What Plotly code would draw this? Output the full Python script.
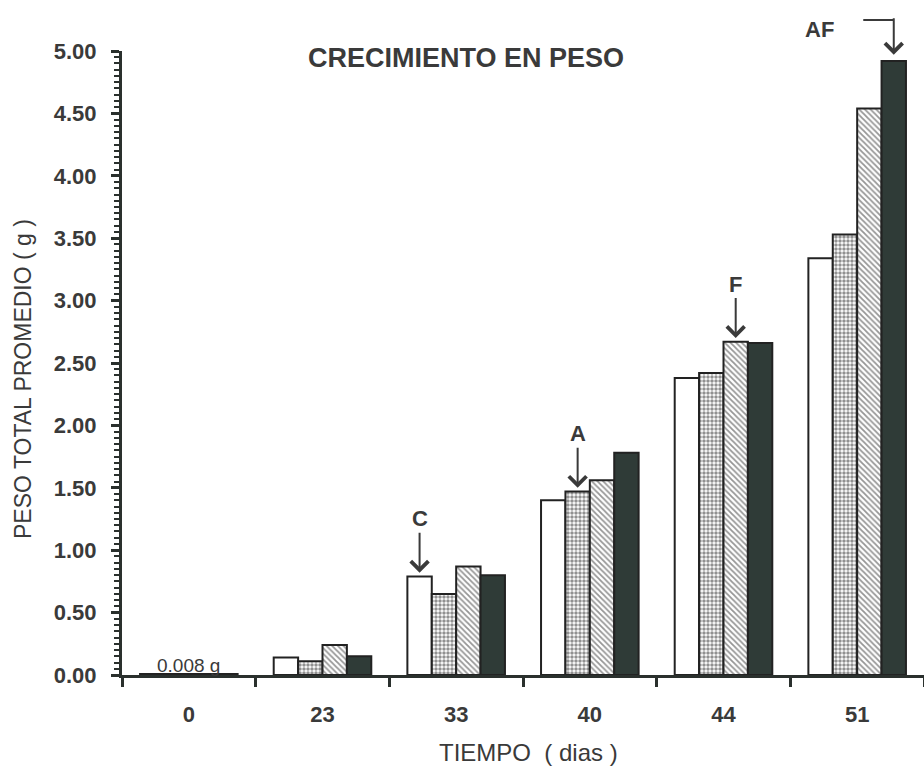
import plotly.graph_objects as go

# Average total weight (g) per sampling day for the four treatments
days = ["0", "23", "33", "40", "44", "51"]
peso_c = [0.008, 0.14, 0.79, 1.40, 2.38, 3.34]
peso_a = [0.008, 0.11, 0.65, 1.47, 2.42, 3.53]
peso_f = [0.008, 0.24, 0.87, 1.56, 2.67, 4.54]
peso_af = [0.008, 0.15, 0.80, 1.78, 2.66, 4.92]
y_ticks = [0.0, 0.5, 1.0, 1.5, 2.0, 2.5, 3.0, 3.5, 4.0, 4.5, 5.0]

INK = "#3a3a3a"
EDGE = "#222"
AXIS = "#2a302d"
FONT = "Liberation Sans"

BARGAP = 0.27
bar_w = (1 - BARGAP) / 4

fig = go.Figure()
fig.add_bar(name="C", x=days, y=peso_c,
            marker=dict(color="white", line=dict(color=EDGE, width=2)))
fig.add_bar(name="A", x=days, y=peso_a,
            marker=dict(color="white", line=dict(color=EDGE, width=2),
                        pattern=dict(shape=".", size=4, solidity=0.6,
                                     fgcolor="#222", bgcolor="white")))
fig.add_bar(name="F", x=days, y=peso_f,
            marker=dict(color="white", line=dict(color=EDGE, width=2),
                        pattern=dict(shape="\\", size=4, solidity=0.45,
                                     fgcolor="#2e2e2e", bgcolor="white")))
fig.add_bar(name="AF", x=days, y=peso_af,
            marker=dict(color="#2f3b37", line=dict(color=EDGE, width=2)))


def bar_x(group, series):
    """Centre of a bar inside its category, in category-index units."""
    return group + (series - 1.5) * bar_w


ann = []
# treatment markers
marks = [("C", 2, 0, peso_c), ("A", 3, 1, peso_a), ("F", 4, 2, peso_f)]
for label, g, s, vals in marks:
    ann.append(dict(x=bar_x(g, s), y=vals[g] + 0.03, xref="x", yref="y",
                    text=f"<b>{label}</b>", showarrow=True, arrowhead=4,
                    arrowsize=1.7, arrowwidth=2, arrowcolor=INK,
                    ax=0, ay=-54, font=dict(size=22, color=INK, family=FONT)))

# bent arrow for AF
af_x = bar_x(5, 3)
ann.append(dict(x=af_x, y=peso_af[5] + 0.05, xref="x", yref="y", text="",
                showarrow=True, arrowhead=4, arrowsize=1.7, arrowwidth=2,
                arrowcolor=INK, ax=0, ay=-38))
ann.append(dict(x=af_x, y=1 + 31 / 624, xref="x", yref="paper", text="",
                showarrow=True, arrowhead=0, arrowwidth=2, arrowcolor=INK,
                ax=-32, ay=0))
ann.append(dict(x=4.72, y=1 + 21 / 624, xref="x", yref="paper",
                text="<b>AF</b>", showarrow=False, yanchor="middle",
                font=dict(size=22, color=INK, family=FONT)))

# initial weight note
ann.append(dict(x=0, y=0.075, xref="x", yref="y", text="0.008 g",
                showarrow=False, yanchor="middle",
                font=dict(size=19, color=INK, family=FONT)))

# axis titles
ann.append(dict(x=(528 - 122) / 802, y=-(752 - 675) / 624, xref="paper",
                yref="paper", text="TIEMPO\u00a0\u00a0( dias )",
                showarrow=False, yanchor="middle",
                font=dict(size=24, color=INK, family=FONT)))
ann.append(dict(x=(8 - 122) / 802, y=1 - (379 - 51) / 624, xref="paper",
                yref="paper", text="PESO TOTAL PROMEDIO ( g )", textangle=-90,
                showarrow=False, font=dict(size=23, color=INK, family=FONT)))

fig.update_layout(
    width=924, height=770,
    margin=dict(l=122, r=0, t=51, b=95),
    paper_bgcolor="white", plot_bgcolor="white",
    barmode="group", bargap=BARGAP, bargroupgap=0,
    showlegend=False,
    title=dict(text="<b>CRECIMIENTO EN PESO</b>", x=466 / 924, xanchor="center",
               y=1 - 58 / 770, yanchor="middle",
               font=dict(size=27, color=INK, family=FONT)),
    annotations=ann,
)

fig.update_xaxes(
    type="category", range=[-0.5, 5.5], tickson="boundaries",
    ticks="outside", ticklen=9, tickwidth=3, tickcolor=AXIS,
    showline=True, linecolor=AXIS, linewidth=3, showgrid=False,
    tickfont=dict(size=22, color=INK, family=FONT, weight="bold"),
    ticklabelstandoff=18, zeroline=False,
)
fig.update_yaxes(
    range=[0, 5.0], tickvals=y_ticks, tickformat=".2f",
    ticks="outside", ticklen=8, tickwidth=3, tickcolor=AXIS,
    minor=dict(dtick=0.05, tick0=0, ticks="outside", ticklen=5, tickwidth=2,
               tickcolor=AXIS, showgrid=False),
    showline=True, linecolor=AXIS, linewidth=3, showgrid=False,
    zeroline=False,
    tickfont=dict(size=22, color=INK, family=FONT, weight="bold"),
    ticklabelstandoff=10,
)

fig.write_html("out.html")
